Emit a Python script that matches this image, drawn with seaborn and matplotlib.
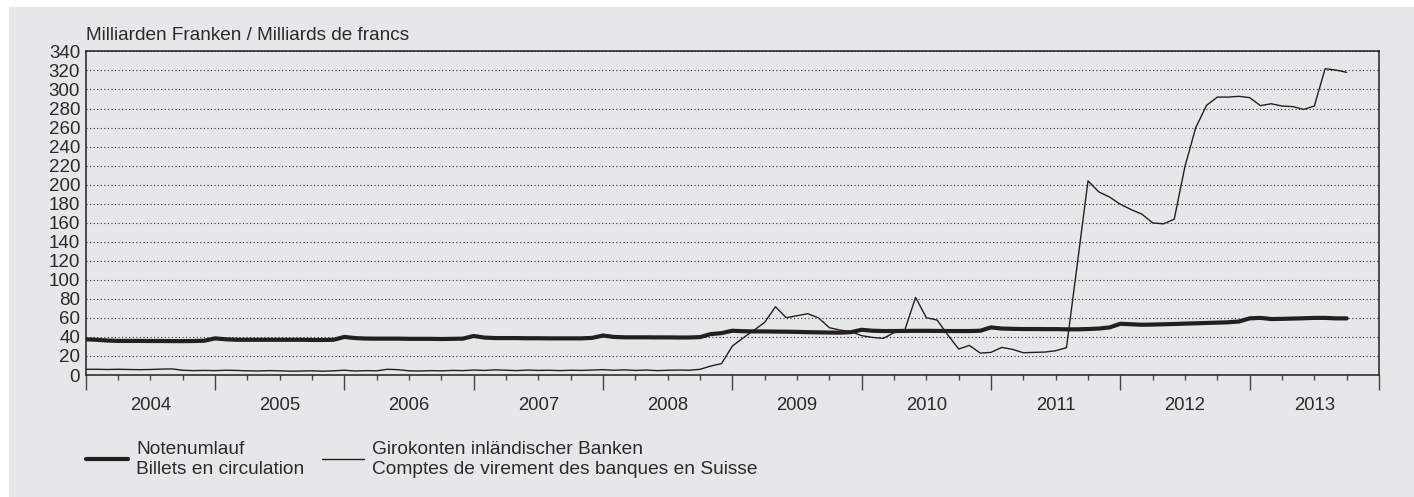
import numpy as np
import pandas as pd
import matplotlib.pyplot as plt
import seaborn as sns
from matplotlib.patches import Rectangle
from matplotlib.ticker import MultipleLocator

# month-end values, Dec 2003 .. Sep 2013
months = pd.period_range("2003-12", "2013-09", freq="M")

notenumlauf = [
    37.5,
    37.0, 36.2, 35.8, 35.8, 35.8, 35.7, 35.7, 35.6, 35.6, 35.7, 36.0, 38.5,
    37.5, 37.0, 37.0, 37.0, 37.0, 37.0, 37.0, 37.0, 36.8, 36.8, 37.0, 40.0,
    38.8, 38.3, 38.2, 38.2, 38.2, 38.0, 38.0, 38.0, 37.8, 38.0, 38.2, 41.0,
    39.3, 38.8, 38.8, 38.8, 38.6, 38.6, 38.5, 38.5, 38.5, 38.5, 39.0, 41.5,
    40.0, 39.6, 39.6, 39.6, 39.5, 39.5, 39.4, 39.4, 39.8, 43.0, 44.0, 46.5,
    46.0, 45.8, 45.8, 45.6, 45.5, 45.3, 45.0, 44.8, 44.6, 44.5, 45.0, 47.5,
    46.5, 46.2, 46.2, 46.3, 46.4, 46.4, 46.3, 46.2, 46.2, 46.2, 46.5, 50.0,
    48.8, 48.5, 48.3, 48.3, 48.2, 48.2, 48.0, 48.0, 48.3, 48.8, 50.0, 53.8,
    53.3, 52.8, 53.0, 53.3, 53.6, 54.0, 54.3, 54.7, 55.0, 55.4, 56.2, 59.5,
    60.0, 58.8, 59.0, 59.3, 59.6, 60.0, 60.0, 59.5, 59.5,
]

girokonten = [
    6.0, 6.0, 5.8, 6.0, 5.8, 5.6, 5.8, 6.2, 6.4, 5.0, 4.6, 4.8,
    4.6, 5.0, 4.8, 4.4, 4.2, 4.6, 4.4, 4.0, 4.2, 4.4, 4.0, 4.4,
    5.0, 4.2, 4.6, 4.4, 6.0, 5.6, 4.4, 4.2, 4.6, 4.4, 4.8, 4.6,
    5.2, 4.8, 5.4, 5.0, 4.6, 5.2, 4.8, 5.0, 4.6, 5.0, 4.8, 5.2,
    5.6, 5.0, 5.4, 4.8, 5.2, 4.6, 5.0, 5.2, 5.0, 6.0, 9.4, 12.0,
    30.4, 39.0, 47.0, 55.3, 71.7, 60.2, 62.3, 64.4, 60.0, 49.7, 47.2, 45.5,
    41.3, 39.5, 38.5, 44.4, 47.2, 81.5, 60.2, 57.7, 42.0, 27.3, 31.1, 23.0,
    23.8, 29.0, 26.9, 23.4, 23.8, 24.1, 25.5, 28.7, 116.0, 204.0, 192.4, 187.0,
    179.4, 173.8, 169.0, 159.8, 158.8, 163.7, 219.3, 260.0, 283.3, 292.0, 292.0, 292.8,
    291.4, 283.0, 285.0, 282.6, 282.0, 279.0, 282.6, 321.8, 320.4, 318.0,
]

years = list(range(2004, 2014))
label_thick = "Notenumlauf\nBillets en circulation"
label_thin = "Girokonten inländischer Banken\nComptes de virement des banques en Suisse"
title = "Milliarden Franken / Milliards de francs"

df = pd.DataFrame({
    "x": months.year + months.month / 12,
    "Notenumlauf": notenumlauf,
    "Girokonten": girokonten,
})

sns.set_theme(style="ticks")
plt.rcParams["font.family"] = ["Liberation Sans", "DejaVu Sans"]

bg = "#e6e7e8"
ink = "#231f20"
txt = "#2a2a2a"
W, H = 1414, 497

fig = plt.figure(figsize=(W / 100, H / 100), dpi=100)
fig.patches.append(Rectangle((9 / W, 0), 1 - 9 / W, 1 - 7 / H,
                             transform=fig.transFigure, color=bg, zorder=-10))
ax = fig.add_axes([85.7 / W, 1 - 375 / H, (1379 - 85.7) / W, (375 - 51.4) / H])
ax.set_facecolor(bg)

sns.lineplot(data=df, x="x", y="Notenumlauf", ax=ax, color=ink, lw=3.0,
             label=label_thick)
sns.lineplot(data=df, x="x", y="Girokonten", ax=ax, color=ink, lw=1.0,
             label=label_thin)

ax.set_xlim(2004, 2014)
ax.set_ylim(0, 340)
ax.set_xlabel("")
ax.set_ylabel("")
ax.set_yticks(range(0, 341, 20))
ax.set_xticks(years + [2014])
ax.set_xticklabels([])
ax.xaxis.set_minor_locator(MultipleLocator(0.25))
ax.tick_params(axis="y", length=0, pad=4, labelsize=13.5, labelcolor=txt)
ax.tick_params(axis="x", which="major", direction="out", length=11,
               width=1, color="#444444")
ax.tick_params(axis="x", which="minor", direction="out", length=3.6,
               width=1, color="#444444")
ax.yaxis.grid(True, linestyle=(0, (1, 2.2)), color="#333333", lw=0.8)
ax.set_axisbelow(True)
for s in ax.spines.values():
    s.set_visible(True)
    s.set_color(ink)
    s.set_linewidth(1.1)

sec = ax.secondary_xaxis("bottom")
sec.set_xticks([y + 0.5 for y in years], labels=[str(y) for y in years])
sec.tick_params(length=0, pad=16, labelsize=13.3, labelcolor=txt)
sec.spines["bottom"].set_visible(False)

fig.text(86 / W, 1 - 40 / H, title, ha="left", va="baseline",
         fontsize=13.7, color=txt)

ax.legend(loc="upper left", bbox_to_anchor=(86 / W, 1 - 441 / H),
          bbox_transform=fig.transFigure, ncol=2, frameon=False,
          borderpad=0, borderaxespad=0, handlelength=2.2, handletextpad=0.42,
          columnspacing=0.9, labelspacing=0, fontsize=13.8,
          labelcolor=txt)

fig.savefig("out.png", dpi=100)
